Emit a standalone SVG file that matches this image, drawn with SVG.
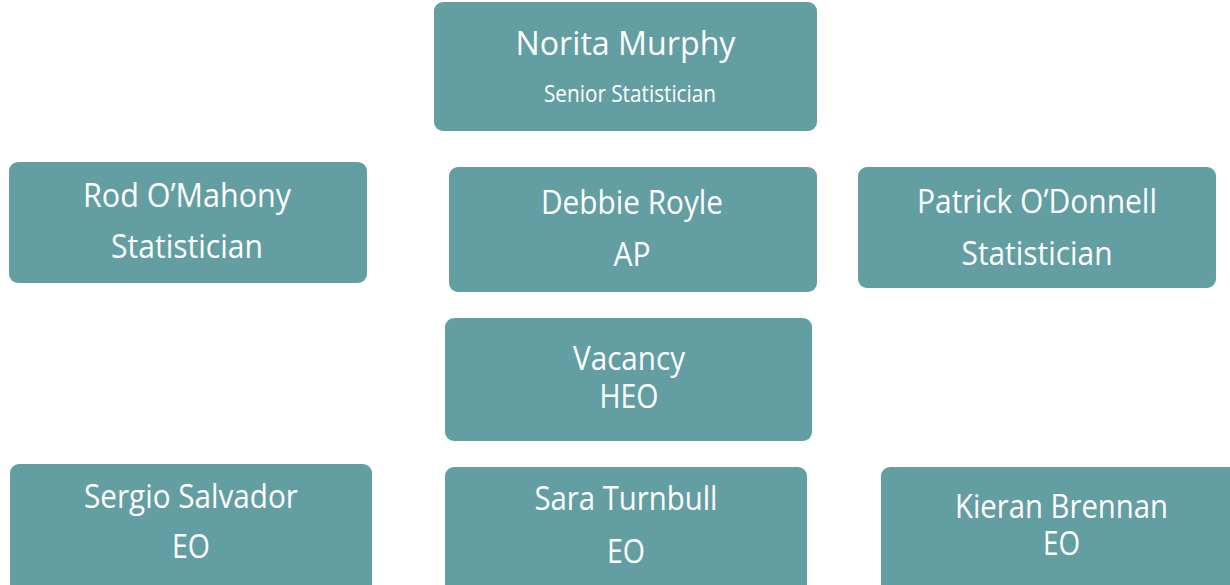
<svg xmlns="http://www.w3.org/2000/svg" width="1230" height="585" viewBox="0 0 1230 585">
<style>
.box{fill:#639ea2;}
.t{font-family:"Open Sans","Noto Sans","Liberation Sans",sans-serif;fill:#ffffff;text-anchor:middle;font-size:32px;}
.s{font-size:23px;}
</style>
<rect width="1230" height="585" fill="#ffffff"/>
<g id="connectors"/>
<g id="norita">
<rect class="box" x="434" y="2" width="383" height="129" rx="9"/>
<text class="t" x="625.5" y="55" textLength="220" lengthAdjust="spacingAndGlyphs">Norita Murphy</text>
<text class="t s" x="630" y="102" textLength="172" lengthAdjust="spacingAndGlyphs">Senior Statistician</text>
</g>
<g id="rod">
<rect class="box" x="9" y="162" width="358" height="121" rx="9"/>
<text class="t" x="187" y="207" textLength="208" lengthAdjust="spacingAndGlyphs">Rod O’Mahony</text>
<text class="t" x="187" y="258" textLength="152" lengthAdjust="spacingAndGlyphs">Statistician</text>
</g>
<g id="debbie">
<rect class="box" x="449" y="167" width="368" height="125" rx="9"/>
<text class="t" x="632" y="214" textLength="182" lengthAdjust="spacingAndGlyphs">Debbie Royle</text>
<text class="t" x="632" y="266" textLength="37" lengthAdjust="spacingAndGlyphs">AP</text>
</g>
<g id="patrick">
<rect class="box" x="858" y="167" width="358" height="121" rx="9"/>
<text class="t" x="1037" y="213" textLength="240" lengthAdjust="spacingAndGlyphs">Patrick O’Donnell</text>
<text class="t" x="1037" y="265" textLength="151" lengthAdjust="spacingAndGlyphs">Statistician</text>
</g>
<g id="vacancy">
<rect class="box" x="445" y="318" width="367" height="123" rx="9"/>
<text class="t" x="629" y="370" textLength="112" lengthAdjust="spacingAndGlyphs">Vacancy</text>
<text class="t" x="629" y="408" textLength="59" lengthAdjust="spacingAndGlyphs">HEO</text>
</g>
<g id="sergio">
<rect class="box" x="10" y="464" width="362" height="130" rx="9"/>
<text class="t" x="191" y="508" textLength="214" lengthAdjust="spacingAndGlyphs">Sergio Salvador</text>
<text class="t" x="191" y="558" textLength="38" lengthAdjust="spacingAndGlyphs">EO</text>
</g>
<g id="sara">
<rect class="box" x="445" y="467" width="362" height="128" rx="9"/>
<text class="t" x="626" y="510" textLength="183" lengthAdjust="spacingAndGlyphs">Sara Turnbull</text>
<text class="t" x="626" y="563" textLength="38" lengthAdjust="spacingAndGlyphs">EO</text>
</g>
<g id="kieran">
<rect class="box" x="881" y="467" width="362" height="128" rx="9"/>
<text class="t" x="1061.5" y="518" textLength="213" lengthAdjust="spacingAndGlyphs">Kieran Brennan</text>
<text class="t" x="1061.5" y="555" textLength="37" lengthAdjust="spacingAndGlyphs">EO</text>
</g>
</svg>
